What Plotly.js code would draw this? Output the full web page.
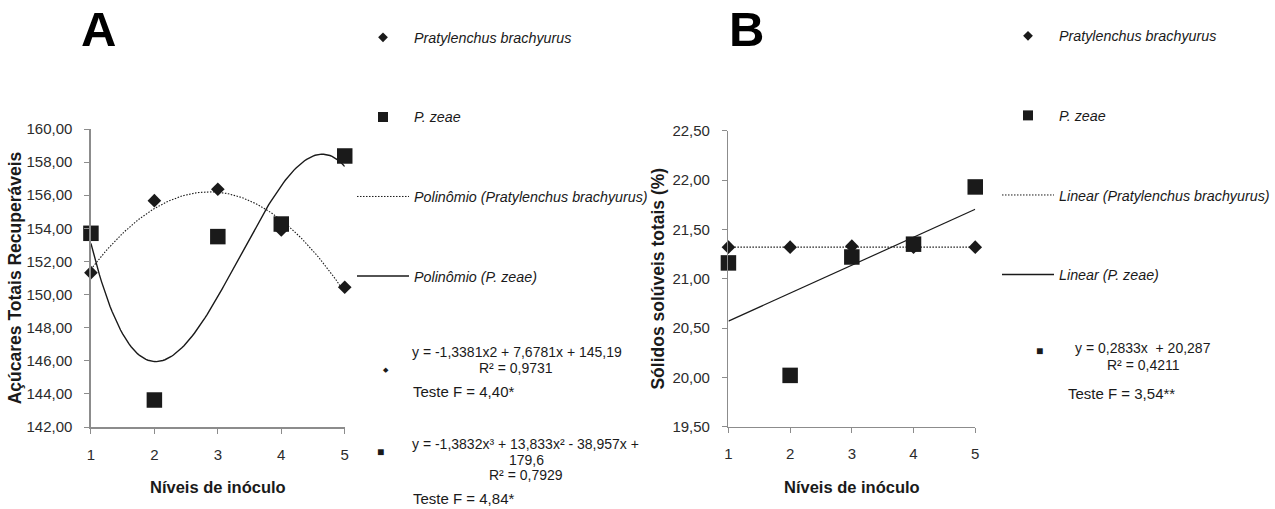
<!DOCTYPE html>
<html>
<head>
<meta charset="utf-8">
<script src="https://cdn.plot.ly/plotly-3.0.1.min.js"></script>
<style>
  html, body { margin: 0; padding: 0; background: #fff; }
  #chart { width: 1275px; height: 509px; }
</style>
</head>
<body>
<div id="chart"></div>
<script>
// Inoculum levels (x) shared by both panels
const niveis = [1, 2, 3, 4, 5];

// Panel A – Açúcares Totais Recuperáveis
const atrBrachyurus = [151.32, 155.67, 156.36, 153.90, 150.44];
const atrZeae       = [153.70, 143.63, 153.50, 154.26, 158.37];
// Polynomial trend coefficients, constant term first
const atrBrachyurusCoef = [145.19, 7.6781, -1.3381];
const atrZeaeCoef       = [179.6, -38.957, 13.833, -1.3832];

// Panel B – Sólidos solúveis totais (%)
const sstBrachyurus = [21.32, 21.32, 21.33, 21.32, 21.32];
const sstZeae       = [21.16, 20.02, 21.22, 21.35, 21.93];
// Linear trend coefficients, constant term first
const sstBrachyurusCoef = [21.32, 0];
const sstZeaeCoef       = [20.287, 0.2833];

const yTicksA = [142, 144, 146, 148, 150, 152, 154, 156, 158, 160];
const yTicksB = [19.5, 20, 20.5, 21, 21.5, 22, 22.5];

const W = 1275, H = 509;
const px = x => x / W;
const py = y => 1 - y / H;

function polyCurve(coef, x0, x1, n) {
  const xs = [], ys = [];
  for (let i = 0; i <= n; i++) {
    const x = x0 + (x1 - x0) * i / n;
    let y = 0;
    for (let k = coef.length - 1; k >= 0; k--) y = y * x + coef[k];
    xs.push(x); ys.push(y);
  }
  return { x: xs, y: ys };
}

const FONT = 'Arial, "Liberation Sans", sans-serif';
const INK = '#1a1a1a';
const AXIS = '#8c8c8c';
const DOTS = '1.5px,1.5px';

const trendA1 = polyCurve(atrBrachyurusCoef, 1, 5, 120);
const trendA2 = polyCurve(atrZeaeCoef, 1, 5, 120);
const trendB1 = polyCurve(sstBrachyurusCoef, 1, 5, 2);
const trendB2 = polyCurve(sstZeaeCoef, 1, 5, 2);

function legendTrace(name, legend, group, opts) {
  return Object.assign({
    x: [null], y: [null], name: name, legend: legend, legendgroup: group,
    showlegend: true, hoverinfo: 'skip'
  }, opts);
}

const traces = [
  // Panel A data
  { x: trendA1.x, y: trendA1.y, mode: 'lines', xaxis: 'x', yaxis: 'y',
    line: { color: INK, width: 1.1, dash: DOTS }, showlegend: false },
  { x: trendA2.x, y: trendA2.y, mode: 'lines', xaxis: 'x', yaxis: 'y',
    line: { color: INK, width: 1.4 }, showlegend: false },
  { x: niveis, y: atrBrachyurus, mode: 'markers', xaxis: 'x', yaxis: 'y', cliponaxis: false,
    marker: { symbol: 'diamond', size: 10.5, color: INK }, showlegend: false },
  { x: niveis, y: atrZeae, mode: 'markers', xaxis: 'x', yaxis: 'y', cliponaxis: false,
    marker: { symbol: 'square', size: 15.5, color: INK }, showlegend: false },

  // Panel B data
  { x: trendB1.x, y: trendB1.y, mode: 'lines', xaxis: 'x2', yaxis: 'y2',
    line: { color: INK, width: 1.1, dash: DOTS }, showlegend: false },
  { x: trendB2.x, y: trendB2.y, mode: 'lines', xaxis: 'x2', yaxis: 'y2',
    line: { color: INK, width: 1.2 }, showlegend: false },
  { x: niveis, y: sstBrachyurus, mode: 'markers', xaxis: 'x2', yaxis: 'y2', cliponaxis: false,
    marker: { symbol: 'diamond', size: 10.5, color: INK }, showlegend: false },
  { x: niveis, y: sstZeae, mode: 'markers', xaxis: 'x2', yaxis: 'y2', cliponaxis: false,
    marker: { symbol: 'square', size: 15.5, color: INK }, showlegend: false },

  // Legend entries, panel A
  legendTrace('Pratylenchus brachyurus', 'legend', 'a1', { mode: 'markers', xaxis: 'x', yaxis: 'y',
    marker: { symbol: 'diamond', size: 7.5, color: INK } }),
  legendTrace('P. zeae', 'legend', 'a2', { mode: 'markers', xaxis: 'x', yaxis: 'y',
    marker: { symbol: 'square', size: 10, color: INK } }),
  legendTrace('Polinômio (Pratylenchus brachyurus)', 'legend', 'a3', { mode: 'lines', xaxis: 'x', yaxis: 'y',
    line: { color: INK, width: 1, dash: DOTS } }),
  legendTrace('Polinômio (P. zeae)', 'legend', 'a4', { mode: 'lines', xaxis: 'x', yaxis: 'y',
    line: { color: INK, width: 1.4 } }),

  // Legend entries, panel B
  legendTrace('Pratylenchus brachyurus', 'legend2', 'b1', { mode: 'markers', xaxis: 'x2', yaxis: 'y2',
    marker: { symbol: 'diamond', size: 7.5, color: INK } }),
  legendTrace('P. zeae', 'legend2', 'b2', { mode: 'markers', xaxis: 'x2', yaxis: 'y2',
    marker: { symbol: 'square', size: 10, color: INK } }),
  legendTrace('Linear (Pratylenchus brachyurus)', 'legend2', 'b3', { mode: 'lines', xaxis: 'x2', yaxis: 'y2',
    line: { color: INK, width: 1, dash: DOTS } }),
  legendTrace('Linear (P. zeae)', 'legend2', 'b4', { mode: 'lines', xaxis: 'x2', yaxis: 'y2',
    line: { color: INK, width: 1.4 } })
];

const axisCommon = {
  showline: true, linecolor: AXIS, linewidth: 1.5,
  ticks: 'outside', tickcolor: AXIS, ticklen: 5, tickwidth: 1,
  showgrid: false, zeroline: false, fixedrange: true,
  tickfont: { family: FONT, size: 15, color: '#2b2b2b' }
};

const legendCommon = {
  bgcolor: 'rgba(0,0,0,0)', borderwidth: 0,
  font: { family: FONT, size: 14.3, color: INK, style: 'italic' },
  tracegroupgap: 58, itemwidth: 52, itemclick: false, itemdoubleclick: false,
  xanchor: 'left', yanchor: 'top', traceorder: 'grouped'
};

const xTitleFont = { family: FONT, size: 16.5, color: INK };
const yTitleFont = { family: FONT, size: 17.5, color: INK };
const eqFont = { family: FONT, size: 14, color: INK };
const fFont = { family: FONT, size: 15, color: INK };

function note(text, x, y, font, xanchor) {
  return { text: text, xref: 'paper', yref: 'paper', x: px(x), y: py(y),
    xanchor: xanchor || 'center', yanchor: 'middle', showarrow: false,
    align: 'center', font: font };
}

const layout = {
  width: W, height: H,
  margin: { l: 0, r: 0, t: 0, b: 0 },
  paper_bgcolor: '#fff', plot_bgcolor: 'rgba(0,0,0,0)',
  separators: ',.',
  showlegend: true,
  xaxis: Object.assign({}, axisCommon, {
    domain: [px(91), px(345)], range: [1, 5], tickvals: niveis, ticktext: niveis.map(String),
    ticklabelstandoff: 8, anchor: 'y',
    title: { text: '<b>Níveis de inóculo</b>', font: xTitleFont, standoff: 20 }
  }),
  yaxis: Object.assign({}, axisCommon, {
    domain: [py(427), py(129)], range: [142, 160], tickvals: yTicksA, tickformat: '.2f',
    ticklabelstandoff: 9, anchor: 'x',
    title: { text: '<b>Açúcares Totais Recuperáveis</b>', font: yTitleFont, standoff: 0 }
  }),
  xaxis2: Object.assign({}, axisCommon, {
    domain: [px(729), px(976)], range: [1, 5], tickvals: niveis, ticktext: niveis.map(String),
    ticklabelstandoff: 8, anchor: 'y2',
    title: { text: '<b>Níveis de inóculo</b>', font: xTitleFont, standoff: 20 }
  }),
  yaxis2: Object.assign({}, axisCommon, {
    domain: [py(426.7), py(130.7)], range: [19.5, 22.5], tickvals: yTicksB, tickformat: '.2f',
    ticklabelstandoff: 9, anchor: 'x2',
    title: { text: '<b>Sólidos solúveis totais (%)</b>', font: yTitleFont, standoff: 3 }
  }),
  legend: Object.assign({}, legendCommon, { x: px(352), y: py(21.5) }),
  legend2: Object.assign({}, legendCommon, { x: px(998), y: py(20) }),
  annotations: [
    note('<b>A</b>', 99, 29, { family: FONT, size: 49, color: '#000' }),
    note('<b>B</b>', 747, 29, { family: FONT, size: 49, color: '#000' }),

    note('◆', 386, 369, { family: FONT, size: 7, color: INK }),
    note('y = -1,3381x2 + 7,6781x + 145,19', 517.5, 352, eqFont),
    note('R² = 0,9731', 516.5, 367.5, eqFont),
    note('Teste F = 4,40*', 411, 391, fFont, 'left'),

    note('■', 381, 452, { family: FONT, size: 12, color: INK }),
    note('y = -1,3832x³ + 13,833x² - 38,957x +', 526, 444, eqFont),
    note('179,6', 526.5, 459.5, eqFont),
    note('R² = 0,7929', 526, 475, eqFont),
    note('Teste F = 4,84*', 411, 498, fFont, 'left'),

    note('■', 1040, 351, { family: FONT, size: 12, color: INK }),
    note('y = 0,2833x  + 20,287', 1144, 347.5, eqFont),
    note('R² = 0,4211', 1144, 364.5, eqFont),
    note('Teste F = 3,54**', 1066.5, 393, fFont, 'left')
  ]
};

Plotly.newPlot('chart', traces, layout, { staticPlot: true, displayModeBar: false });
</script>
</body>
</html>
